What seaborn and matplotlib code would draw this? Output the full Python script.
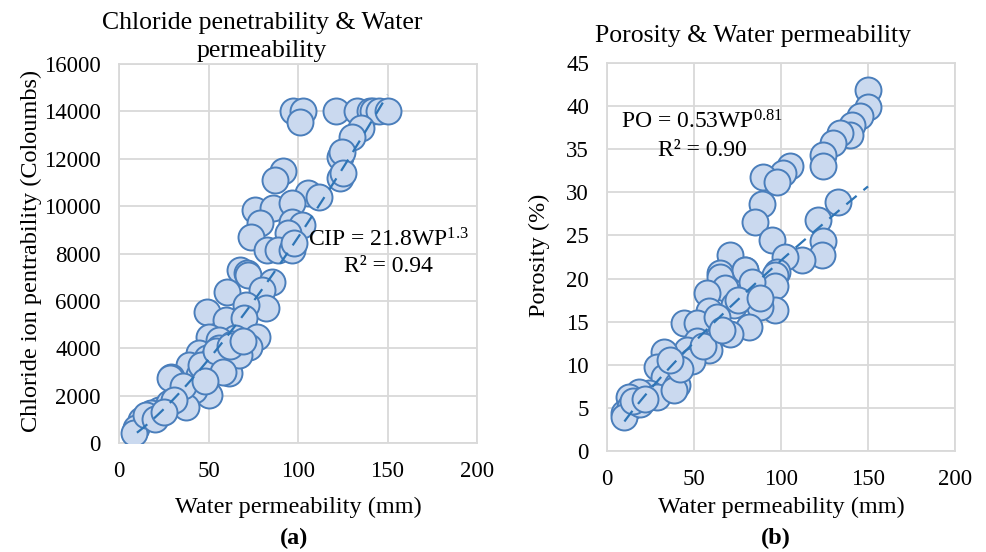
import numpy as np
import pandas as pd
import matplotlib
matplotlib.use("Agg")
import matplotlib.pyplot as plt
import seaborn as sns

# ---------------- data ----------------
# Panel (a): Water permeability (mm) vs Chloride ion penetrability (Coulombs)
cip_wp = [97, 103, 101, 121, 133, 140, 142, 145, 150, 135, 130, 123.5, 124.5, 123.5, 125,
          91.6, 87, 105.6, 112, 76, 86, 96.6, 79, 96.6, 102, 74, 94.5, 82.7, 89, 96.6, 98,
          67.6, 71.5, 72, 60.5, 85.7, 80, 82, 70.8, 49.3, 59.6, 70, 50.3, 65, 77, 56, 72.6,
          44.7, 49.3, 59.6, 39, 28.9, 44.7, 61.5, 33.5, 50.3, 41.9, 22.3, 37.2, 17.7, 12.1,
          9.3, 8.4, 28, 14.9, 28.5, 52, 56, 63, 67, 46, 54, 36, 31, 20, 25, 62, 69, 58, 48]
cip_val = [14000, 14000, 13550, 14000, 14000, 14000, 14000, 14000, 14000, 13300, 12900, 12070,
           12280, 11180, 11400, 11500, 11100, 10550, 10400, 9830, 9920, 10130, 9280, 9330, 9200,
           8690, 8860, 8140, 8140, 8140, 8440, 7300, 7170, 7090, 6385, 6807, 6457, 5684, 5824,
           5541, 5190, 5260, 4486, 4415, 4486, 4345, 4064, 3784, 3577, 3360, 3290, 2800, 2870,
           2940, 2096, 2026, 2237, 1393, 1533, 1252, 970, 620, 408, 1674, 1180, 2740, 3500,
           4000, 4200, 3700, 3300, 3900, 2400, 1800, 1000, 1300, 4100, 4300, 3000, 2600]

# Panel (b): Water permeability (mm) vs Porosity (%)
po_wp = [150.2, 150, 145.4, 140.6, 139.7, 134, 130, 124, 124, 105, 101, 89.8, 97.5, 89, 85,
         94.6, 133, 121.5, 124, 123.4, 112, 102.3, 70.7, 79.3, 65, 97.5, 79.5, 65.1, 68, 57.5,
         96.7, 96.7, 96.7, 88, 72.8, 83.3, 58.4, 81.4, 70.9, 61.3, 44, 51.7, 51.7, 46, 32.6,
         58.4, 48.9, 28.7, 32.6, 40.2, 24, 18.2, 12.5, 9.6, 13.4, 9.6, 19, 28.7, 38.3, 42,
         36, 55, 63, 15, 22, 75, 66, 88]
po_val = [41.9, 39.9, 38.8, 37.8, 36.6, 36.9, 35.7, 34.3, 33.0, 33.0, 32.2, 31.8, 31.2, 28.7,
          26.6, 24.5, 28.9, 26.8, 24.3, 22.7, 22.2, 22.5, 22.7, 21.0, 20.6, 20.8, 21.0, 20.2,
          18.9, 18.3, 20.4, 19.1, 16.4, 16.7, 16.9, 19.6, 16.2, 14.4, 13.6, 13.6, 14.8, 14.8,
          12.7, 11.7, 11.5, 11.7, 10.4, 9.8, 8.6, 7.7, 6.7, 6.9, 6.3, 4.4, 5.1, 4.0, 5.5, 6.3,
          7.1, 9.5, 10.5, 12.2, 15.5, 5.8, 6.0, 17.5, 14.0, 17.8]

# Fitted power-law trend lines shown in the chart
cip_coef, cip_exp, cip_r2 = 21.8, 1.3, 0.94
po_coef, po_exp, po_r2 = 0.53, 0.81, 0.90
trend_range = [10, 150]

x_ticks = [0, 50, 100, 150, 200]
cip_ticks = [0, 2000, 4000, 6000, 8000, 10000, 12000, 14000, 16000]
po_ticks = [0, 5, 10, 15, 20, 25, 30, 35, 40, 45]

# ---------------- style ----------------
sns.set_theme(style="white")
plt.rcParams["font.family"] = ["Liberation Serif", "DejaVu Serif"]
plt.rcParams["mathtext.fontset"] = "custom"
plt.rcParams["mathtext.rm"] = "Liberation Serif"
plt.rcParams["mathtext.it"] = "Liberation Serif:italic"
plt.rcParams["text.color"] = "black"
plt.rcParams["xtick.color"] = "black"
plt.rcParams["ytick.color"] = "black"

FS_TICK = 16.5
FS_LAB = 17.5
FS_TITLE = 18.5
FS_EQ = 17
grid_c = "#d9d9d9"
face_c = "#cad9ef"
edge_c = "#4a7ebb"
trend_c = "#2e75b6"

fig = plt.figure(figsize=(9.86, 5.52), dpi=100)
axA = fig.add_axes([119 / 986, 1 - 443 / 552, 358 / 986, 379 / 552])
axB = fig.add_axes([607 / 986, 1 - 451 / 552, 348 / 986, 388 / 552])

dfA = pd.DataFrame({"wp": cip_wp, "cip": cip_val})
dfB = pd.DataFrame({"wp": po_wp, "po": po_val})


def style_axes(ax, yticks, ylim):
    ax.set_xlim(0, 200)
    ax.set_ylim(*ylim)
    ax.set_xticks(x_ticks)
    ax.set_yticks(yticks)
    ax.grid(True, color=grid_c, linewidth=1.3)
    ax.set_axisbelow(True)
    for s in ax.spines.values():
        s.set_color(grid_c)
        s.set_linewidth(1.3)
    ax.tick_params(axis="both", length=0, labelsize=FS_TICK, colors="black",
                   labelcolor="black")
    ax.tick_params(axis="y", pad=13)
    ax.tick_params(axis="x", pad=13)
    ax.set_xlabel("")
    ax.set_ylabel("")


tx = np.linspace(trend_range[0], trend_range[1], 100)

# Panel (a)
sns.scatterplot(data=dfA, x="wp", y="cip", ax=axA, s=350, color=face_c,
                edgecolor=edge_c, linewidth=1.4, legend=False, zorder=3)
sns.lineplot(x=tx, y=cip_coef * tx ** cip_exp, ax=axA, color=trend_c, lw=1.6,
             linestyle=(0, (6, 4)), zorder=4)
style_axes(axA, cip_ticks, (0, 16000))

# Panel (b)
sns.scatterplot(data=dfB, x="wp", y="po", ax=axB, s=350, color=face_c,
                edgecolor=edge_c, linewidth=1.4, legend=False, zorder=3)
sns.lineplot(x=tx, y=po_coef * tx ** po_exp, ax=axB, color=trend_c, lw=1.6,
             linestyle=(0, (6, 4)), zorder=4)
style_axes(axB, po_ticks, (0, 45))

# Equations
fig.text(388 / 986, 1 - 240 / 552, r"CIP = 21.8WP$^{\mathrm{1.3}}$", ha="center", va="center",
         fontsize=FS_EQ, color="black")
fig.text(388 / 986, 1 - 267 / 552, f"R² = {cip_r2:.2f}", ha="center", va="center",
         fontsize=FS_EQ, color="black")
fig.text(702 / 986, 1 - 122 / 552, r"PO = 0.53WP$^{\mathrm{0.81}}$", ha="center", va="center",
         fontsize=FS_EQ, color="black")
fig.text(702 / 986, 1 - 150 / 552, f"R² = {po_r2:.2f}", ha="center", va="center",
         fontsize=FS_EQ, color="black")

# Titles
fig.text(262 / 986, 1 - 23 / 552, "Chloride penetrability & Water", ha="center", va="center",
         fontsize=FS_TITLE, color="black")
fig.text(262 / 986, 1 - 51 / 552, "permeability", ha="center", va="center",
         fontsize=FS_TITLE, color="black")
fig.text(753 / 986, 1 - 36 / 552, "Porosity & Water permeability", ha="center", va="center",
         fontsize=FS_TITLE, color="black")

# Axis labels
fig.text(31 / 986, 1 - 251 / 552, "Chloride ion pentrability (Coloumbs)", rotation=90,
         ha="center", va="center", fontsize=FS_LAB, color="black")
fig.text(539 / 986, 1 - 255 / 552, "Porosity (%)", rotation=90, ha="center", va="center",
         fontsize=FS_LAB, color="black")
fig.text(298 / 986, 1 - 507 / 552, "Water permeability (mm)", ha="center", va="center",
         fontsize=FS_LAB, color="black")
fig.text(781 / 986, 1 - 507 / 552, "Water permeability (mm)", ha="center", va="center",
         fontsize=FS_LAB, color="black")

# Panel tags
fig.text(294 / 986, 1 - 538 / 552, "(a)", ha="center", va="center", fontsize=FS_LAB,
         fontweight="bold", color="black")
fig.text(776 / 986, 1 - 538 / 552, "(b)", ha="center", va="center", fontsize=FS_LAB,
         fontweight="bold", color="black")

fig.savefig("out.png", dpi=100)
